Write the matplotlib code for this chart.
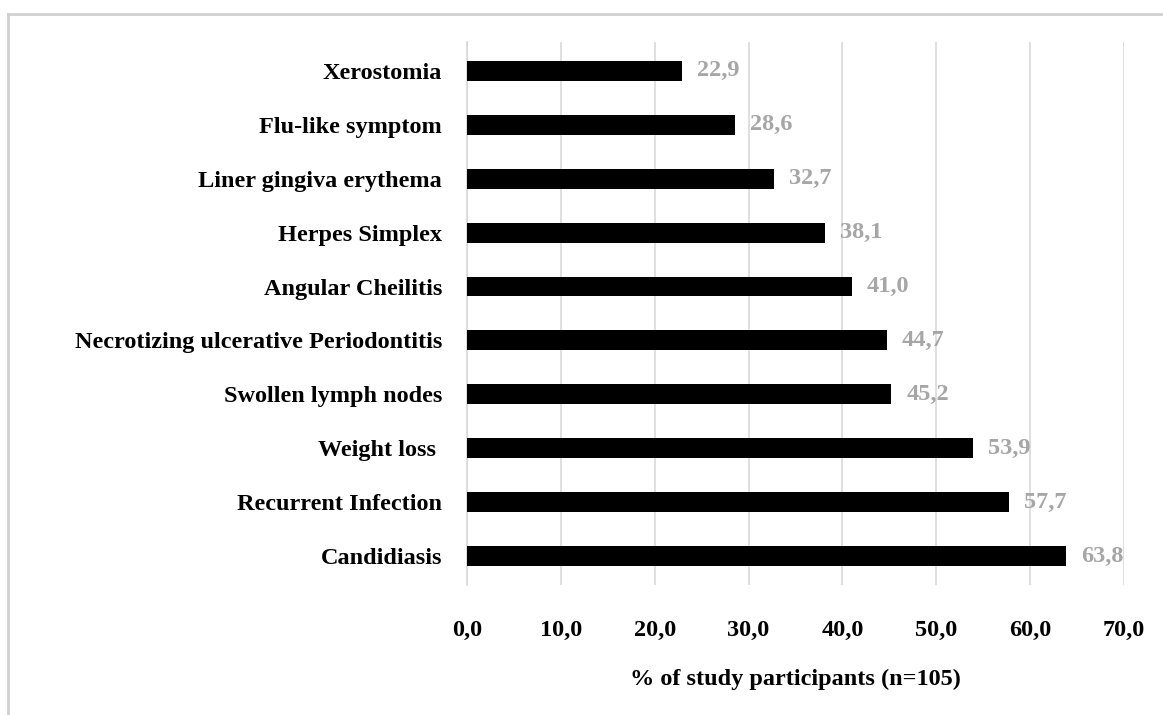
import matplotlib.pyplot as plt
from matplotlib.lines import Line2D

# symptom data (% of participants)
symptoms = ['Candidiasis', 'Recurrent Infection', 'Weight loss ', 'Swollen lymph nodes',
            'Necrotizing ulcerative Periodontitis', 'Angular Cheilitis', 'Herpes Simplex',
            'Liner gingiva erythema', 'Flu-like symptom', 'Xerostomia']
percent = [63.8, 57.7, 53.9, 45.2, 44.7, 41.0, 38.1, 32.7, 28.6, 22.9]
xticks = [0, 10, 20, 30, 40, 50, 60, 70]

plt.rcParams['font.family'] = ['Liberation Serif', 'DejaVu Serif']
plt.rcParams['font.weight'] = 'bold'

fig = plt.figure(figsize=(11.63, 7.15), dpi=100)
ax = fig.add_axes([0.4015, 0.1818, 0.5650, 0.7595])

ypos = list(range(len(symptoms)))
ax.barh(ypos, percent, height=0.37, color='black', zorder=3)

for y, v in zip(ypos, percent):
    ax.text(v + 1.6, y, f'{v:.1f}'.replace('.', ','), va='center', ha='left',
            fontsize=17.5, fontweight='bold', color='#A6A6A6', zorder=4)

ax.set_xlim(0, 70)
ax.set_ylim(-0.53, 9.53)
ax.set_yticks(ypos)
ax.set_yticklabels(symptoms, fontsize=17.5, fontweight='bold')
ax.set_xticks(xticks)
ax.set_xticklabels([f'{t:.1f}'.replace('.', ',') for t in xticks], fontsize=17.5, fontweight='bold')
ax.tick_params(axis='both', length=0)
ax.tick_params(axis='y', pad=18)
ax.tick_params(axis='x', pad=25)
ax.grid(axis='x', color='#D9D9D9', linewidth=1.2, zorder=0)
for s in ['top', 'right', 'bottom']:
    ax.spines[s].set_visible(False)
ax.spines['left'].set_color('#D9D9D9')
ax.spines['left'].set_linewidth(1.2)

ax.set_xlabel('% of study participants (n=105)', fontsize=17.5, fontweight='bold', labelpad=20)

# outer frame (only top and left visible)
fig.add_artist(Line2D([8 / 1163, 1], [1 - 14 / 715, 1 - 14 / 715], color='#D0D0D0', linewidth=2,
                      transform=fig.transFigure))
fig.add_artist(Line2D([8 / 1163, 8 / 1163], [0, 1 - 14 / 715], color='#D0D0D0', linewidth=2,
                      transform=fig.transFigure))

fig.savefig('out.png', dpi=100)
